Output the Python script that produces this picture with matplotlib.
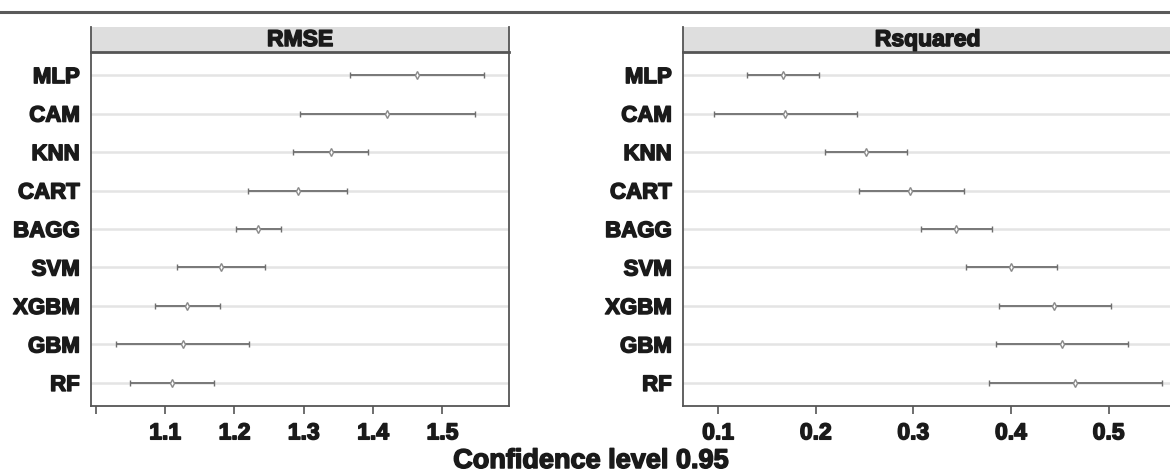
import matplotlib
matplotlib.use("Agg")
import matplotlib.pyplot as plt
from matplotlib.lines import Line2D
import matplotlib.patheffects as pe

plt.rcParams['font.family'] = ['Liberation Sans', 'DejaVu Sans']

models = ["RF", "GBM", "XGBM", "SVM", "BAGG", "CART", "KNN", "CAM", "MLP"]

rmse_mean = [1.110, 1.125, 1.132, 1.180, 1.234, 1.291, 1.339, 1.420, 1.464]
rmse_lo   = [1.049, 1.029, 1.085, 1.117, 1.202, 1.220, 1.285, 1.294, 1.367]
rmse_hi   = [1.171, 1.221, 1.179, 1.244, 1.267, 1.363, 1.393, 1.547, 1.560]

rsq_mean = [0.466, 0.452, 0.444, 0.400, 0.344, 0.297, 0.251, 0.169, 0.166]
rsq_lo   = [0.378, 0.385, 0.388, 0.354, 0.308, 0.244, 0.209, 0.096, 0.130]
rsq_hi   = [0.555, 0.520, 0.502, 0.447, 0.381, 0.352, 0.294, 0.242, 0.203]

rmse_ticks = [1.0, 1.1, 1.2, 1.3, 1.4, 1.5]
rmse_ticklabels = ["", "1.1", "1.2", "1.3", "1.4", "1.5"]
rsq_ticks = [0.1, 0.2, 0.3, 0.4, 0.5]
rsq_ticklabels = ["0.1", "0.2", "0.3", "0.4", "0.5"]

W, H = 1170, 473
fig = plt.figure(figsize=(W / 100, H / 100), dpi=100)

bar_col = "#6f6f6f"
spine_col = "#555555"
heavy = [pe.withStroke(linewidth=1.1, foreground="#1a1a1a")]

def panel(x0, x1, title, mean, lo, hi, xlim, ticks, ticklabels, right_spine=True):
    ax = fig.add_axes([x0 / W, 1 - 406 / H, (x1 - x0) / W, (406 - 52) / H])
    ys = list(range(1, len(models) + 1))
    for y in ys:
        ax.axhline(y, color="#e4e4e4", lw=1.8, zorder=0)
    ax.errorbar(mean, ys, xerr=[[m - l for m, l in zip(mean, lo)], [h - m for m, h in zip(mean, hi)]],
                fmt="none", ecolor=bar_col, elinewidth=1.3, capsize=2.0, capthick=1.0, zorder=2)
    ax.plot(mean, ys, linestyle="none", marker="d", markersize=4.2, markerfacecolor="white",
            markeredgecolor="#8a8a8a", markeredgewidth=1.0, zorder=3)
    ax.set_xlim(*xlim)
    ax.set_ylim(0.4, len(models) + 0.6)
    ax.set_yticks(ys)
    ax.set_yticklabels(models, fontsize=16, fontweight="bold", color="#1a1a1a")
    for t in ax.get_yticklabels():
        t.set_path_effects(heavy)
    ax.tick_params(axis="y", length=0, pad=8)
    ax.set_xticks(ticks)
    ax.set_xticklabels(ticklabels, fontsize=16.5, fontweight="bold", color="#1a1a1a")
    for t in ax.get_xticklabels():
        t.set_path_effects(heavy)
    ax.tick_params(axis="x", length=6, width=1.2, color=spine_col, pad=5)
    for s in ["left", "bottom", "right"]:
        ax.spines[s].set_color(spine_col)
        ax.spines[s].set_linewidth(1.3)
    ax.spines["top"].set_visible(False)
    if not right_spine:
        ax.spines["right"].set_visible(False)
    # strip
    sx = fig.add_axes([x0 / W, 1 - 52 / H, (x1 - x0) / W, 25 / H])
    sx.set_facecolor("#dedede")
    sx.set_xticks([])
    sx.set_yticks([])
    sx.spines["top"].set_visible(False)
    sx.spines["bottom"].set_linewidth(2.0)
    for s in ["left", "bottom", "right"]:
        sx.spines[s].set_color(spine_col)
    sx.spines["left"].set_linewidth(1.3)
    sx.spines["right"].set_linewidth(1.3)
    if not right_spine:
        sx.spines["right"].set_visible(False)
    sx.text(0.5, 0.5, title, ha="center", va="center", fontsize=16.5, fontweight="bold",
            color="#1a1a1a", transform=sx.transAxes, path_effects=heavy)
    return ax

panel(91, 509, "RMSE", rmse_mean, rmse_lo, rmse_hi, (0.993, 1.596), rmse_ticks, rmse_ticklabels)
panel(683, 1172, "Rsquared", rsq_mean, rsq_lo, rsq_hi, (0.064, 0.565), rsq_ticks, rsq_ticklabels,
      right_spine=False)

fig.add_artist(Line2D([0, 1], [1 - 12 / H, 1 - 12 / H], color="#5a5a5a", lw=2.2,
                      transform=fig.transFigure))
fig.text(591 / W, 1 - 461 / H, "Confidence level 0.95", ha="center", va="center",
         fontsize=19.5, fontweight="bold", color="#1a1a1a", path_effects=heavy)

fig.savefig("out.png", dpi=100, facecolor="white")
